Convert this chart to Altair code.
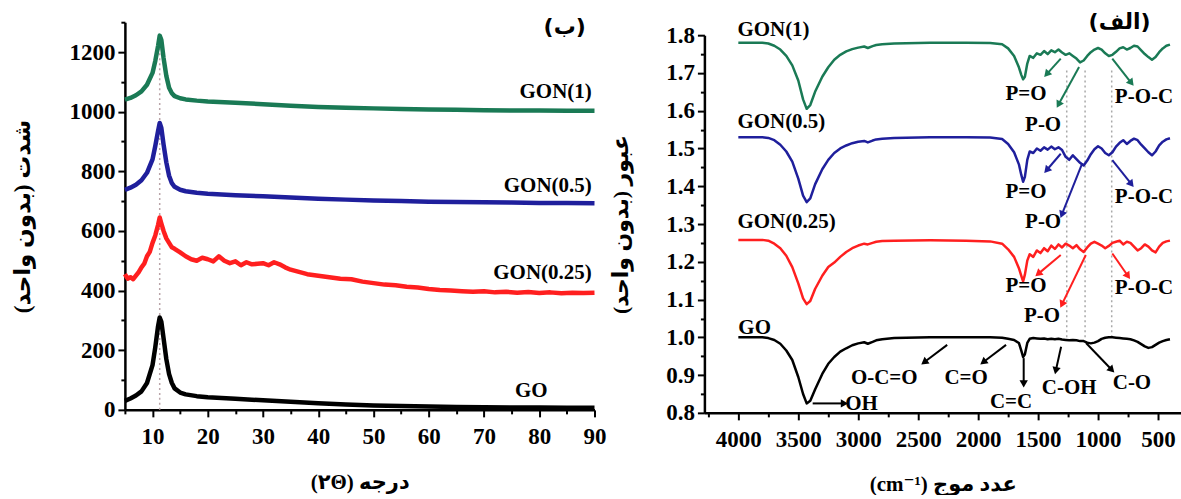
import math
import altair as alt
import pandas as pd

RLM = "\u200f"
SERIF = "Liberation Serif"
MIXED = "Liberation Serif, DejaVu Sans"
AR = "DejaVu Sans"

SERIES = ["GO", "GON(0.25)", "GON(0.5)", "GON(1)"]
COLORS = ["#000000", "#ff1f1f", "#1f1f9c", "#1a7a55"]

# ---------------- XRD data (panel ب) ----------------
xrd_2theta = [5, 6, 7, 8, 9, 10, 10.5, 11, 11.3, 11.6, 12, 12.5, 13, 13.5, 14, 15, 16, 18, 20, 25,
              30, 35, 40, 45, 50, 55, 60, 65, 70, 75, 80, 85, 90]
xrd_go = [30, 38, 48, 62, 90, 150, 210, 280, 310, 295, 240, 170, 120, 90, 72, 58, 52, 46, 42, 37,
          32, 27, 22, 18, 15, 13, 11, 10, 9, 8, 8, 7, 7]
xrd_gon05 = [738, 745, 755, 770, 795, 840, 885, 935, 962, 945, 890, 830, 785, 760, 748, 738, 733, 728, 725, 720,
             716, 712, 708, 705, 702, 700, 698, 697, 696, 695, 694, 694, 693]
xrd_gon1 = [1040, 1046, 1055, 1068, 1090, 1130, 1170, 1220, 1255, 1240, 1180, 1120, 1080, 1062, 1052, 1045, 1041, 1037, 1034, 1030,
            1025, 1020, 1016, 1013, 1011, 1009, 1007, 1006, 1005, 1004, 1004, 1003, 1003]
xrd_2theta_r = [5, 5.5, 6, 6.5, 7, 7.5, 8, 8.5, 9, 9.5, 10, 10.5, 11, 11.3, 11.6, 12, 12.5, 13, 13.5, 14,
                15, 16, 17, 18, 19, 20, 21, 22, 23, 24, 25, 26, 27, 28, 29, 30, 31, 32, 33, 34, 35, 36, 37, 38,
                40, 42, 44, 46, 48, 50, 52, 54, 56, 58, 60, 62, 64, 66, 68, 70, 72, 74, 76, 78, 80, 82, 84, 86, 88, 90]
xrd_gon025 = [455, 440, 445, 438, 450, 462, 478, 490, 515, 530, 560, 585, 620, 645, 625, 600, 575, 560, 545, 540,
              528, 515, 505, 500, 510, 505, 498, 515, 500, 492, 498, 485, 495, 488, 490, 492, 485, 495, 488, 478, 470, 465, 460, 455,
              450, 445, 440, 438, 430, 425, 420, 418, 413, 410, 405, 402, 400, 398, 396, 398, 394, 396, 393, 395, 392, 394, 391, 393, 392, 393]
xrd_peak_2theta = [11.3]
xrd_peak_top = [1250]
xrd_label_text = ["GON(1)", "GON(0.5)", "GON(0.25)", "GO"]
xrd_label_x = [89.5, 89.5, 89.5, 81.5]
xrd_label_y = [1065, 752, 459, 62]

# ---------------- FTIR data (panel الف) ----------------
ftir_wn = [4000, 3900, 3800, 3750, 3700, 3650, 3600, 3550, 3500, 3460,
           3430, 3400, 3360, 3300, 3250, 3200, 3150, 3100, 3050, 3000,
           2950, 2920, 2880, 2850, 2800, 2700, 2400, 2100, 1900, 1800,
           1750, 1700, 1660, 1640, 1625, 1610, 1590, 1570, 1540, 1510,
           1480, 1450, 1420, 1390, 1360, 1330, 1300, 1270, 1240, 1210,
           1180, 1150, 1120, 1090, 1060, 1030, 1000, 970, 940, 910,
           880, 850, 820, 790, 760, 730, 700, 670, 640, 610,
           580, 550, 520, 490, 460, 430, 400]
ftir_go = [1.000, 1.000, 1.000, 0.998, 0.993, 0.983, 0.965, 0.940, 0.895, 0.850,
           0.825, 0.832, 0.862, 0.903, 0.930, 0.948, 0.962, 0.971, 0.979, 0.984,
           0.987, 0.983, 0.988, 0.992, 0.995, 0.998, 1.000, 1.000, 1.000, 0.999,
           0.996, 0.993, 0.985, 0.965, 0.948, 0.955, 0.985, 0.996, 0.998, 0.997,
           0.996, 0.997, 0.995, 0.996, 0.995, 0.996, 0.994, 0.993, 0.992, 0.993,
           0.992, 0.990, 0.990, 0.986, 0.984, 0.986, 0.990, 0.996, 0.999, 1.000,
           1.000, 0.999, 0.998, 0.997, 0.996, 0.995, 0.992, 0.988, 0.982, 0.976,
           0.972, 0.974, 0.980, 0.986, 0.990, 0.993, 0.995]
ftir_gon1 = [1.780, 1.780, 1.780, 1.778, 1.772, 1.762, 1.745, 1.720, 1.680, 1.630,
             1.605, 1.615, 1.650, 1.690, 1.715, 1.735, 1.748, 1.757, 1.763, 1.767,
             1.770, 1.766, 1.771, 1.774, 1.776, 1.778, 1.780, 1.780, 1.779, 1.776,
             1.765, 1.745, 1.715, 1.695, 1.683, 1.690, 1.725, 1.745, 1.740, 1.752,
             1.748, 1.758, 1.750, 1.760, 1.755, 1.762, 1.754, 1.748, 1.752, 1.745,
             1.738, 1.728, 1.733, 1.745, 1.755, 1.762, 1.766, 1.762, 1.752, 1.745,
             1.748, 1.756, 1.765, 1.768, 1.762, 1.766, 1.772, 1.770, 1.760, 1.750,
             1.742, 1.735, 1.742, 1.755, 1.765, 1.772, 1.775]
ftir_gon05 = [1.530, 1.530, 1.530, 1.528, 1.522, 1.510, 1.492, 1.465, 1.420, 1.375,
              1.358, 1.368, 1.405, 1.445, 1.470, 1.488, 1.500, 1.508, 1.514, 1.518,
              1.520, 1.516, 1.521, 1.524, 1.526, 1.528, 1.530, 1.530, 1.529, 1.525,
              1.512, 1.490, 1.458, 1.430, 1.412, 1.425, 1.470, 1.492, 1.488, 1.500,
              1.494, 1.503, 1.497, 1.505, 1.498, 1.503, 1.496, 1.478, 1.470, 1.482,
              1.472, 1.462, 1.455, 1.468, 1.485, 1.498, 1.506, 1.500, 1.488, 1.482,
              1.490, 1.505, 1.515, 1.522, 1.512, 1.520, 1.526, 1.522, 1.510, 1.500,
              1.490, 1.482, 1.492, 1.508, 1.518, 1.524, 1.527]
ftir_gon025 = [1.258, 1.258, 1.258, 1.256, 1.248, 1.236, 1.216, 1.186, 1.143, 1.103,
               1.088, 1.096, 1.128, 1.163, 1.186, 1.198, 1.213, 1.226, 1.236, 1.243,
               1.248, 1.246, 1.250, 1.253, 1.255, 1.256, 1.257, 1.256, 1.254, 1.248,
               1.233, 1.213, 1.183, 1.163, 1.148, 1.166, 1.203, 1.220, 1.213, 1.230,
               1.223, 1.236, 1.228, 1.243, 1.234, 1.246, 1.238, 1.248, 1.243, 1.236,
               1.244, 1.233, 1.226, 1.238, 1.248, 1.253, 1.248, 1.243, 1.236, 1.242,
               1.250, 1.253, 1.256, 1.246, 1.253, 1.250, 1.240, 1.230, 1.236, 1.246,
               1.240, 1.230, 1.225, 1.240, 1.250, 1.254, 1.256]

# dotted guide lines (wavenumber, from, to)
ftir_guide_wn = [1261, 1108, 886]
ftir_guide_lo = [1.0, 1.0, 1.0]
ftir_guide_hi = [1.707, 1.707, 1.707]

# arrows: series, start (wn, value), end (wn, value)
arrow_series = ["GON(1)", "GON(1)", "GON(1)",
                "GON(0.5)", "GON(0.5)", "GON(0.5)",
                "GON(0.25)", "GON(0.25)", "GON(0.25)",
                "GO", "GO", "GO", "GO", "GO", "GO"]
arrow_w1 = [1311, 1158, 881, 1311, 1131, 881, 1311, 1102, 881, 2258, 1767, 1620, 1308, 1100, 3380]
arrow_v1 = [1.738, 1.716, 1.738, 1.486, 1.461, 1.469, 1.218, 1.218, 1.222, 0.980, 0.980, 0.945, 0.975, 0.985, 0.825]
arrow_w2 = [1422, 1325, 728, 1422, 1298, 728, 1492, 1297, 756, 2442, 1950, 1620, 1350, 892, 3125]
arrow_v2 = [1.699, 1.619, 1.676, 1.445, 1.328, 1.408, 1.170, 1.090, 1.165, 0.936, 0.936, 0.880, 0.915, 0.916, 0.825]

# band labels (centered)
band_text = ["P=O", "P-O", "P-O-C", "P=O", "P-O", "P-O-C", "P=O", "P-O", "P-O-C",
             "O-C=O", "C=O", "C=C", "C-OH", "C-O"]
band_wn = [1600, 1458, 617, 1600, 1458, 617, 1600, 1467, 617, 2783, 2100, 1725, 1241, 717]
band_v = [1.645, 1.563, 1.636, 1.386, 1.305, 1.372, 1.136, 1.057, 1.131, 0.893, 0.893, 0.829, 0.866, 0.879]
oh_text = ["OH"]
oh_wn = [3108]
oh_v = [0.824]

ftir_label_text = ["GON(1)", "GON(0.5)", "GON(0.25)", "GO"]
ftir_label_wn = [4008, 4008, 4008, 4000]
ftir_label_v = [1.814, 1.569, 1.305, 1.025]

# ---------------- geometry ----------------
L_W, L_H = 470, 403
R_W, R_H = 477, 406
R_DOM = [4283, 308]
R_YRANGE = [406, 28]
RX = R_W / (R_DOM[0] - R_DOM[1])
RY = (R_YRANGE[0] - R_YRANGE[1]) / 1.0

color = alt.Color("series:N", scale=alt.Scale(domain=SERIES, range=COLORS), legend=None)

def tick_size(test):
    return {"condition": {"test": test, "value": 7}, "value": 4}

# ---------------- left panel ----------------
lx_scale = alt.Scale(domain=[5, 90], nice=False, zero=False)
ly_scale = alt.Scale(domain=[0, 1300], nice=False, zero=False, range=[403, 15])
lx_axis = alt.Axis(values=list(range(5, 91, 5)), title="(۲Θ) درجه",
                   labelExpr="datum.value % 10 === 0 ? datum.label : ''",
                   tickSize=tick_size("datum.value % 10 === 0"),
                   labelFlush=False, labelOverlap=False, grid=False,
                   labelPadding=9, titlePadding=23)
ly_axis = alt.Axis(values=list(range(0, 1301, 100)), title=RLM + "شدت (بدون واحد)" + RLM,
                   labelExpr="datum.value % 200 === 0 ? datum.label : ''",
                   tickSize=tick_size("datum.value % 200 === 0"),
                   labelFlush=False, labelOverlap=False, grid=False,
                   labelPadding=3, titlePadding=34, format="d", titleFontSize=23)

xrd_rows = []
for s, ys in [("GO", xrd_go), ("GON(0.5)", xrd_gon05), ("GON(1)", xrd_gon1)]:
    for a, b in zip(xrd_2theta, ys):
        xrd_rows.append({"t": a, "i": b, "series": s})
for a, b in zip(xrd_2theta_r, xrd_gon025):
    xrd_rows.append({"t": a, "i": b, "series": "GON(0.25)"})
xrd_df = pd.DataFrame(xrd_rows)

LX = lambda f: alt.X(f, scale=lx_scale, axis=lx_axis)
LY = lambda f: alt.Y(f, scale=ly_scale, axis=ly_axis)

l_guide = alt.Chart(pd.DataFrame({"t": xrd_peak_2theta, "lo": [0], "hi": xrd_peak_top})).mark_rule(
    strokeDash=[2, 3], color="#b9a4a8", strokeWidth=1.5
).encode(x=LX("t:Q"), y=LY("lo:Q"), y2="hi:Q")

l_lines = alt.Chart(xrd_df).mark_line(strokeWidth=4.5, strokeJoin="round").encode(
    x=LX("t:Q"), y=LY("i:Q"), color=color,
    strokeWidth=alt.StrokeWidth("series:N", scale=alt.Scale(domain=SERIES, range=[4.5, 6, 4.5, 4.5]), legend=None)
)

l_labels = alt.Chart(pd.DataFrame({"t": xrd_label_x, "i": xrd_label_y, "txt": xrd_label_text})).mark_text(
    font=SERIF, fontWeight="bold", fontSize=21, align="right", baseline="middle", color="black"
).encode(x=LX("t:Q"), y=LY("i:Q"), text="txt:N")

l_panel = alt.Chart(pd.DataFrame({"t": [84.6], "i": [1283], "txt": [RLM + "(ب)" + RLM]})).mark_text(
    font=AR, fontWeight="bold", fontSize=22, align="center", baseline="middle", color="black"
).encode(x=LX("t:Q"), y=LY("i:Q"), text="txt:N")

left = alt.layer(l_guide, l_lines, l_labels, l_panel).properties(width=L_W, height=L_H)

# ---------------- right panel ----------------
rx_scale = alt.Scale(domain=R_DOM, nice=False, zero=False)
ry_scale = alt.Scale(domain=[0.8, 1.8], nice=False, zero=False, range=R_YRANGE)
rx_axis = alt.Axis(values=list(range(4250, 499, -250)), title="(cm⁻¹) عدد موج",
                   labelExpr="datum.value % 500 === 0 ? datum.label : ''",
                   tickSize=tick_size("datum.value % 500 === 0"),
                   labelFlush=False, labelOverlap=False, grid=False,
                   labelPadding=9, titlePadding=22, format="d")
ry_axis = alt.Axis(values=[round(0.8 + 0.05 * k, 2) for k in range(21)],
                   title=RLM + "عبور (بدون واحد)" + RLM,
                   labelExpr="round(datum.value * 100) % 10 === 0 ? datum.label : ''",
                   tickSize=tick_size("round(datum.value * 100) % 10 === 0"),
                   labelFlush=False, labelOverlap=False, grid=False,
                   labelPadding=3, titlePadding=33, format=".1f", titleFontSize=22)

RXe = lambda f: alt.X(f, scale=rx_scale, axis=rx_axis)
RYe = lambda f: alt.Y(f, scale=ry_scale, axis=ry_axis)

ftir_rows = []
for s, ys in [("GO", ftir_go), ("GON(0.25)", ftir_gon025), ("GON(0.5)", ftir_gon05), ("GON(1)", ftir_gon1)]:
    for a, b in zip(ftir_wn, ys):
        ftir_rows.append({"w": a, "v": b, "series": s})
ftir_df = pd.DataFrame(ftir_rows)

arrows_df = pd.DataFrame({"series": arrow_series, "w1": arrow_w1, "v1": arrow_v1,
                          "w2": arrow_w2, "v2": arrow_v2})
arrows_df["ang"] = [
    math.degrees(math.atan2((a - c) * RX, (d - b) * RY)) % 360
    for a, b, c, d in zip(arrow_w1, arrow_v1, arrow_w2, arrow_v2)
]

r_guide = alt.Chart(pd.DataFrame({"w": ftir_guide_wn, "lo": ftir_guide_lo, "hi": ftir_guide_hi})).mark_rule(
    strokeDash=[2, 3], color="#a9a9a9", strokeWidth=1.5
).encode(x=RXe("w:Q"), y=RYe("lo:Q"), y2="hi:Q")

r_lines = alt.Chart(ftir_df).mark_line(strokeWidth=2.5, strokeJoin="round").encode(
    x=RXe("w:Q"), y=RYe("v:Q"), color=color
)

r_arrows = alt.Chart(arrows_df).mark_rule(strokeWidth=2).encode(
    x=RXe("w1:Q"), x2="w2:Q", y=RYe("v1:Q"), y2="v2:Q", color=color
)

r_heads = alt.Chart(arrows_df).mark_point(shape="triangle", filled=True, size=70, opacity=1).encode(
    x=RXe("w2:Q"), y=RYe("v2:Q"), angle=alt.Angle("ang:Q", scale=None), color=color
)

r_bands = alt.Chart(pd.DataFrame({"w": band_wn, "v": band_v, "txt": band_text})).mark_text(
    font=SERIF, fontWeight="bold", fontSize=21, align="center", baseline="middle", color="black"
).encode(x=RXe("w:Q"), y=RYe("v:Q"), text="txt:N")

r_oh = alt.Chart(pd.DataFrame({"w": oh_wn, "v": oh_v, "txt": oh_text})).mark_text(
    font=SERIF, fontWeight="bold", fontSize=21, align="left", baseline="middle", color="black"
).encode(x=RXe("w:Q"), y=RYe("v:Q"), text="txt:N")

r_labels = alt.Chart(pd.DataFrame({"w": ftir_label_wn, "v": ftir_label_v, "txt": ftir_label_text})).mark_text(
    font=SERIF, fontWeight="bold", fontSize=21, align="left", baseline="middle", color="black"
).encode(x=RXe("w:Q"), y=RYe("v:Q"), text="txt:N")

r_panel = alt.Chart(pd.DataFrame({"w": [820], "v": [1.835], "txt": [RLM + "(الف)" + RLM]})).mark_text(
    font=AR, fontWeight="bold", fontSize=22, align="center", baseline="middle", color="black"
).encode(x=RXe("w:Q"), y=RYe("v:Q"), text="txt:N")

right = alt.layer(r_guide, r_lines, r_arrows, r_heads, r_bands, r_oh, r_labels, r_panel).properties(
    width=R_W, height=R_H
)

chart = alt.hconcat(left, right, spacing=110, bounds="flush").properties(
    padding={"left": 12, "top": 7, "right": 0, "bottom": 0}
).configure_view(stroke=None).configure_axis(
    domainColor="black", domainWidth=2.5, tickColor="black", tickWidth=2,
    labelFont=SERIF, labelFontWeight="bold", labelFontSize=23, labelColor="black",
    titleFont=MIXED, titleFontWeight="bold", titleFontSize=21, titleColor="black"
)

chart.save("out.html", embed_options={"renderer": "svg", "actions": False})
